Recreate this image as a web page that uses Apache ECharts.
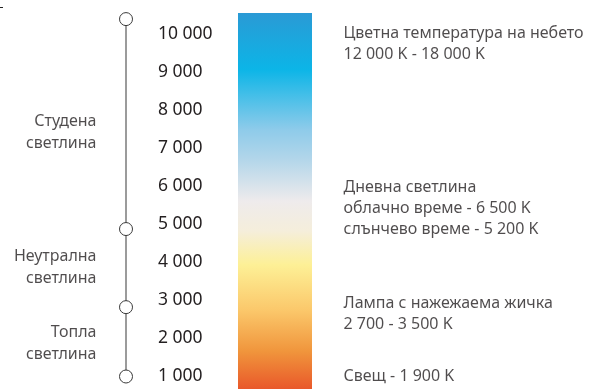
<!DOCTYPE html>
<html><head><meta charset="utf-8">
<script src="https://cdn.jsdelivr.net/npm/echarts@6/dist/echarts.min.js"></script>
<style>html,body{margin:0;padding:0;background:#fff}#c{width:603px;height:389px}</style>
</head><body><div id="c"></div>
<script>
// ---- data ----
const tickValues = [1000, 2000, 3000, 4000, 5000, 6000, 7000, 8000, 9000, 10000];
const scaleMin = 672, scaleMax = 10540;
const markerValues = [10380, 4870, 2820, 1000];
const barRange = [672, 10540];
const groupLabels = ['Студена\nсветлина', 'Неутрална\nсветлина', 'Топла\nсветлина'];
const groupLabelValues = [7400, 3850, 1880];
const noteTexts = [
  'Цветна температура на небето\n12 000 K - 18 000 K',
  'Дневна светлина\nоблачно време - 6 500 K\nслънчево време - 5 200 K',
  'Лампа с нажежаема жичка\n2 700 - 3 500 K',
  'Свещ - 1 900 K'
];
const noteValues = [9730, 5400, 2640, 1010];
const barColors = [
  [0, '#2a9ad5'], [0.15, '#0cb5e7'], [0.31, '#8ecbea'], [0.39, '#b3d6ea'],
  [0.50, '#eeebec'], [0.58, '#f5eedb'], [0.67, '#fdf096'], [0.79, '#fbc86b'],
  [0.90, '#f0953c'], [1, '#e9582a']
];

// ---- chart ----
const FONT = 'Noto Sans';
const TXT = '#231f20';
const fmt = v => String(v).replace(/\B(?=(\d{3})+(?!\d))/g, ' ');
const chart = echarts.init(document.getElementById('c'), null, {renderer: 'canvas'});
const yBase = {
  type: 'value', min: scaleMin, max: scaleMax,
  axisLine: {show: false}, axisTick: {show: false}, splitLine: {show: false}
};
chart.setOption({
  animation: false,
  backgroundColor: '#fff',
  grid: [
    {left: 120, width: 12, top: 13, bottom: 0},
    {left: 238, width: 74, top: 13, bottom: 0}
  ],
  xAxis: [
    {type: 'category', gridIndex: 0, data: ['s'], show: false},
    {type: 'category', gridIndex: 1, data: ['b'], show: false}
  ],
  yAxis: [
    Object.assign({}, yBase, {gridIndex: 0, position: 'right',
      axisLabel: {show: true, margin: 26, align: 'left', color: TXT, fontFamily: FONT, fontSize: 17.5,
        customValues: tickValues, formatter: v => fmt(v)}}),
    Object.assign({}, yBase, {gridIndex: 1, axisLabel: {show: false}})
  ],
  series: [
    {
      type: 'line', xAxisIndex: 0, yAxisIndex: 0,
      data: markerValues.map(v => ['s', v]),
      symbol: 'circle', symbolSize: 13,
      itemStyle: {color: '#fff', borderColor: '#3a3a3a', borderWidth: 1},
      lineStyle: {color: '#7a7a7a', width: 1.5}, z: 3, silent: true
    },
    {
      type: 'scatter', xAxisIndex: 0, yAxisIndex: 0,
      data: groupLabelValues.map((v, i) => ({value: ['s', v], label: {formatter: groupLabels[i]}})),
      symbolSize: 1, itemStyle: {color: 'transparent'},
      label: {show: true, position: 'left', distance: 29, color: TXT, fontFamily: FONT, fontSize: 16, lineHeight: 22, align: 'right'},
      silent: true
    },
    {
      type: 'bar', xAxisIndex: 1, yAxisIndex: 1, stack: 'bar', barWidth: '100%',
      data: [barRange[0]], itemStyle: {color: 'transparent'}, silent: true
    },
    {
      type: 'bar', xAxisIndex: 1, yAxisIndex: 1, stack: 'bar', barWidth: '100%',
      data: [barRange[1] - barRange[0]],
      itemStyle: {color: new echarts.graphic.LinearGradient(0, 0, 0, 1,
        barColors.map(c => ({offset: c[0], color: c[1]})))},
      silent: true
    },
    {
      type: 'scatter', xAxisIndex: 1, yAxisIndex: 1,
      data: noteValues.map((v, i) => ({value: ['b', v], label: {formatter: noteTexts[i]}})),
      symbolSize: 1, itemStyle: {color: 'transparent'},
      label: {show: true, position: 'right', distance: 68, color: TXT, fontFamily: FONT, fontSize: 16, lineHeight: 21, align: 'left'},
      silent: true
    }
  ],
  graphic: [
    {type: 'line', shape: {x1: 0, y1: 7.5, x2: 3, y2: 7.5}, style: {stroke: '#222', lineWidth: 1}}
  ]
});
</script>
</body></html>
